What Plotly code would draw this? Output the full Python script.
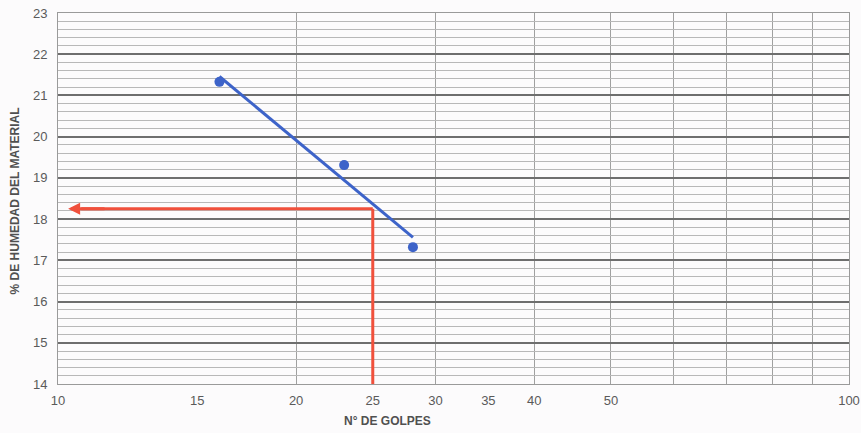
import numpy as np
import plotly.graph_objects as go

# data
golpes = [16.0, 23.0, 28.1]          # N° de golpes
humedad = [21.33, 19.31, 17.32]      # % de humedad
x_tick_vals = [10, 15, 20, 25, 30, 35, 40, 50, 100]
x_tick_text = ["10", "15", "20", "25", "30", "35", "40", "50", "100"]
x_grid_vals = [20, 30, 40, 50, 60, 70, 80, 90]
golpes_ref = 25
humedad_ll = 18.25
arrow_end = 10.3

# trend line: least squares on log10(golpes)
lx = np.log10(golpes)
slope, intercept = np.polyfit(lx, humedad, 1)
trend_x = [golpes[0], golpes[-1]]
trend_y = [slope * np.log10(v) + intercept for v in trend_x]

BLUE = "#3d63c9"
RED = "#f0503c"

fig = go.Figure()
fig.add_trace(go.Scatter(x=[golpes_ref, golpes_ref], y=[14, humedad_ll], mode="lines",
                         line=dict(color=RED, width=3), showlegend=False, hoverinfo="skip"))
fig.add_trace(go.Scatter(x=[golpes_ref, arrow_end + 0.4], y=[humedad_ll, humedad_ll], mode="lines",
                         line=dict(color=RED, width=3), showlegend=False, hoverinfo="skip"))
fig.add_annotation(x=np.log10(arrow_end), y=humedad_ll, ax=np.log10(arrow_end + 1.2), ay=humedad_ll,
                   xref="x", yref="y", axref="x", ayref="y", showarrow=True,
                   arrowhead=2, arrowsize=0.8, arrowwidth=3, arrowcolor=RED, text="")
fig.add_trace(go.Scatter(x=trend_x, y=trend_y, mode="lines",
                         line=dict(color=BLUE, width=3), showlegend=False))
fig.add_trace(go.Scatter(x=golpes, y=humedad, mode="markers",
                         marker=dict(color=BLUE, size=10), showlegend=False))

fig.update_layout(
    width=861, height=433,
    margin=dict(l=58, r=12, t=13, b=49),
    paper_bgcolor="#fcfbfc", plot_bgcolor="#fcfbfc",
    font=dict(family="Liberation Sans, Arial, sans-serif", color="#5a5a5a", size=13),
    showlegend=False,
)
fig.update_xaxes(
    type="log", range=[1, 2], automargin=False,
    tickmode="array", tickvals=x_tick_vals, ticktext=x_tick_text,
    showgrid=False, ticks="", zeroline=False, ticklabelstandoff=4,
    showline=True, linecolor="#9a9a9a", linewidth=1, mirror=True,
    tickfont=dict(size=13, color="#5a5a5a"),
    minor=dict(tickmode="array", tickvals=x_grid_vals, showgrid=True,
               gridcolor="#a0a0a0", gridwidth=1, ticks=""),
)
fig.update_yaxes(
    range=[14, 23], dtick=1, tick0=14, automargin=False,
    showgrid=True, gridcolor="#6e6e6e", gridwidth=1.5,
    ticks="", zeroline=False, ticklabelstandoff=7,
    showline=True, linecolor="#9a9a9a", linewidth=1, mirror=True,
    tickfont=dict(size=13, color="#5a5a5a"),
    minor=dict(dtick=0.2, showgrid=True, gridcolor="#b8b8b8", gridwidth=1),
)
fig.add_annotation(x=-0.054, y=0.493, xref="paper", yref="paper", showarrow=False,
                   xanchor="center", yanchor="middle",
                   textangle=-90, text="<b>% DE HUMEDAD DEL MATERIAL</b>",
                   font=dict(size=12, color="#505050"))
fig.add_annotation(x=0.416, y=-0.10, xref="paper", yref="paper", showarrow=False,
                   xanchor="center", yanchor="middle",
                   text="<b>N° DE GOLPES</b>", font=dict(size=12, color="#505050"))

fig.write_html("out.html", config={"displayModeBar": False},
               post_script="document.body.style.margin='0';document.body.style.overflow='hidden';")
